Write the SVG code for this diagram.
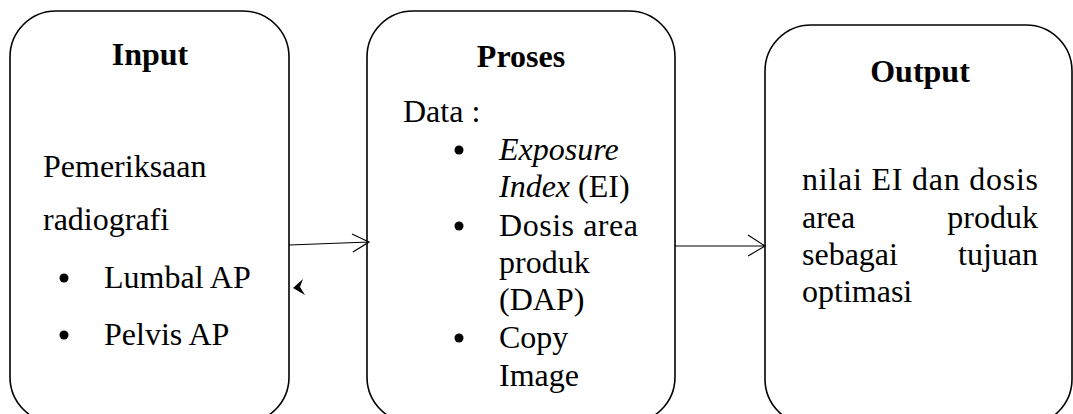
<svg xmlns="http://www.w3.org/2000/svg" width="1073" height="414" viewBox="0 0 1073 414">
<style>
.box{fill:#fff;stroke:#000;stroke-width:1.6}
.t{font-family:"Liberation Serif","Times New Roman",serif;font-size:32px;fill:#000}
.b{font-weight:bold}
.c{stroke:#000;stroke-width:1.2;fill:none}
</style>
<rect width="1073" height="414" fill="#fff"/>
<g id="input">
<rect class="box" x="10" y="11" width="279" height="412" rx="46" ry="46"/>
<text class="t b" x="150" y="65" text-anchor="middle">Input</text>
<text class="t" x="43" y="177">Pemeriksaan</text>
<text class="t" x="43" y="230">radiografi</text>
<circle cx="64" cy="278" r="4.5"/>
<text class="t" x="104" y="288">Lumbal AP</text>
<circle cx="64" cy="335" r="4.5"/>
<text class="t" x="104" y="345">Pelvis AP</text>
</g>
<g id="proses">
<rect class="box" x="367" y="11" width="308" height="412" rx="46" ry="46"/>
<text class="t b" x="521" y="67" text-anchor="middle">Proses</text>
<text class="t" x="403" y="122">Data :</text>
<circle cx="459" cy="150" r="4.5"/>
<text class="t" x="499" y="160" font-style="italic">Exposure</text>
<text class="t" x="499" y="197"><tspan font-style="italic">Index</tspan> (EI)</text>
<circle cx="459" cy="226" r="4.5"/>
<text class="t" x="499" y="236" textLength="139" lengthAdjust="spacing">Dosis area</text>
<text class="t" x="499" y="273">produk</text>
<text class="t" x="499" y="310">(DAP)</text>
<circle cx="459" cy="338" r="4.5"/>
<text class="t" x="499" y="348">Copy</text>
<text class="t" x="499" y="386">Image</text>
</g>
<g id="output">
<rect class="box" x="765" y="25" width="307" height="400" rx="46" ry="46"/>
<text class="t b" x="920" y="82" text-anchor="middle">Output</text>
<text class="t" x="802" y="190" textLength="236" lengthAdjust="spacing">nilai EI dan dosis</text>
<text class="t" x="802" y="228">area</text>
<text class="t" x="1038" y="228" text-anchor="end">produk</text>
<text class="t" x="802" y="265">sebagai</text>
<text class="t" x="1038" y="265" text-anchor="end">tujuan</text>
<text class="t" x="802" y="302">optimasi</text>
</g>
<g id="connectors">
<path class="c" d="M289 245 L369 242 M352 234 L369 242 L353 252"/>
<path class="c" d="M675 246 L765 246 M748 235 L765 246 L748 256"/>
<path d="M293 288 L303 279 L300 287 L305 295 Z" fill="#000"/>
</g>
</svg>
